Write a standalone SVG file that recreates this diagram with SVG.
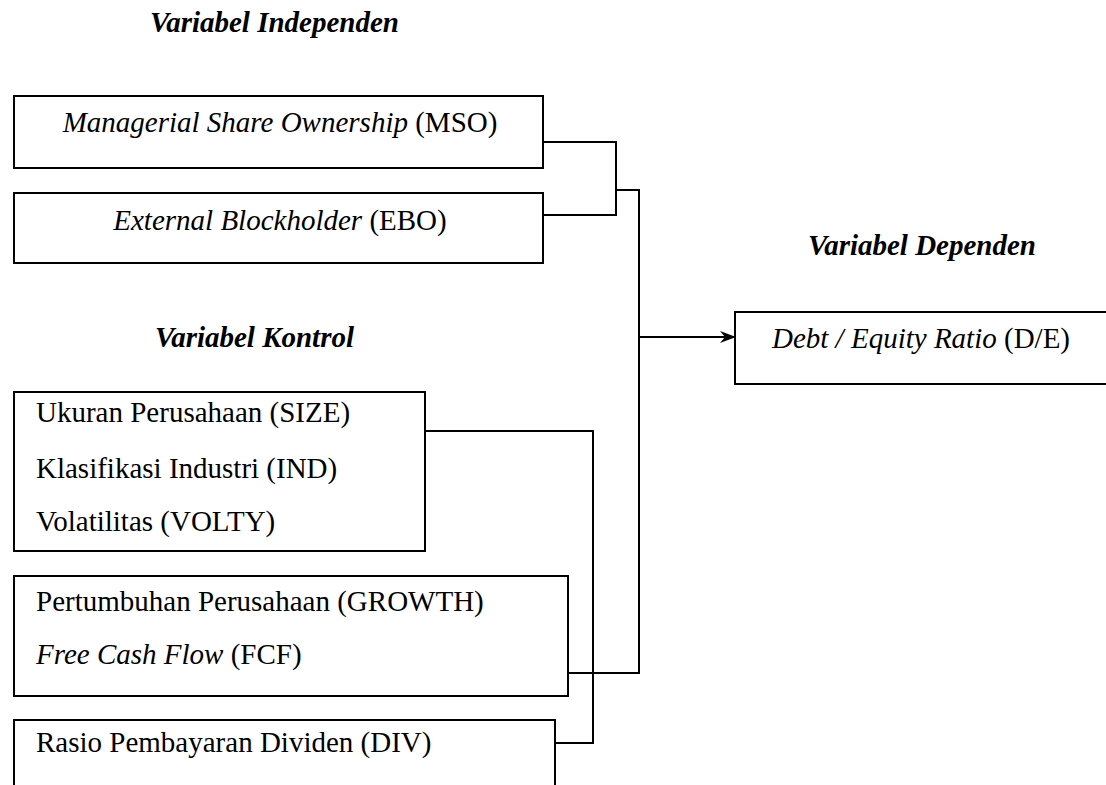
<svg xmlns="http://www.w3.org/2000/svg" width="1106" height="785" viewBox="0 0 1106 785">
<defs>
<style>
text{font-family:"Liberation Serif","Times New Roman",serif;font-size:29px;fill:#000}
.h{font-weight:bold;font-style:italic}
.i{font-style:italic}
rect{fill:#fff;stroke:#000;stroke-width:2}
.c path{fill:none;stroke:#000;stroke-width:2}
</style>
<marker id="ar" markerWidth="16" markerHeight="12" refX="15" refY="6" orient="auto" markerUnits="userSpaceOnUse">
<path d="M0,0 L16,6 L0,12 L5,6 Z" fill="#000"/>
</marker>
</defs>
<rect x="0" y="0" width="1106" height="785" style="stroke:none"/>
<text class="h" x="150" y="32">Variabel Independen</text>
<text class="h" x="808" y="255">Variabel Dependen</text>
<text class="h" x="155" y="347">Variabel Kontrol</text>
<g id="mso"><rect x="14" y="96" width="529" height="72"/><text x="280" y="132" text-anchor="middle"><tspan class="i">Managerial Share Ownership</tspan> (MSO)</text></g>
<g id="ebo"><rect x="14" y="193" width="529" height="70"/><text x="280" y="230" text-anchor="middle"><tspan class="i">External Blockholder</tspan> (EBO)</text></g>
<g id="de"><rect x="735" y="312" width="380" height="72"/><text x="921" y="348" text-anchor="middle"><tspan class="i">Debt / Equity Ratio</tspan> (D/E)</text></g>
<g id="ctrl1"><rect x="14" y="392" width="411" height="159"/>
<text x="36" y="422">Ukuran Perusahaan (SIZE)</text>
<text x="36" y="478">Klasifikasi Industri (IND)</text>
<text x="36" y="531">Volatilitas (VOLTY)</text></g>
<g id="ctrl2"><rect x="14" y="576" width="554" height="120"/>
<text x="36" y="611">Pertumbuhan Perusahaan (GROWTH)</text>
<text x="36" y="664"><tspan class="i">Free Cash Flow</tspan> (FCF)</text></g>
<g id="div"><rect x="14" y="720" width="541" height="80"/>
<text x="36" y="752">Rasio Pembayaran Dividen (DIV)</text></g>
<g class="c" id="connectors">
<path d="M543,142 H616 V215 H543"/>
<path d="M616,190 H639 V673 H568"/>
<path d="M639,337 H735" marker-end="url(#ar)"/>
<path d="M425,431 H593 V743 H555"/>
</g>
</svg>
